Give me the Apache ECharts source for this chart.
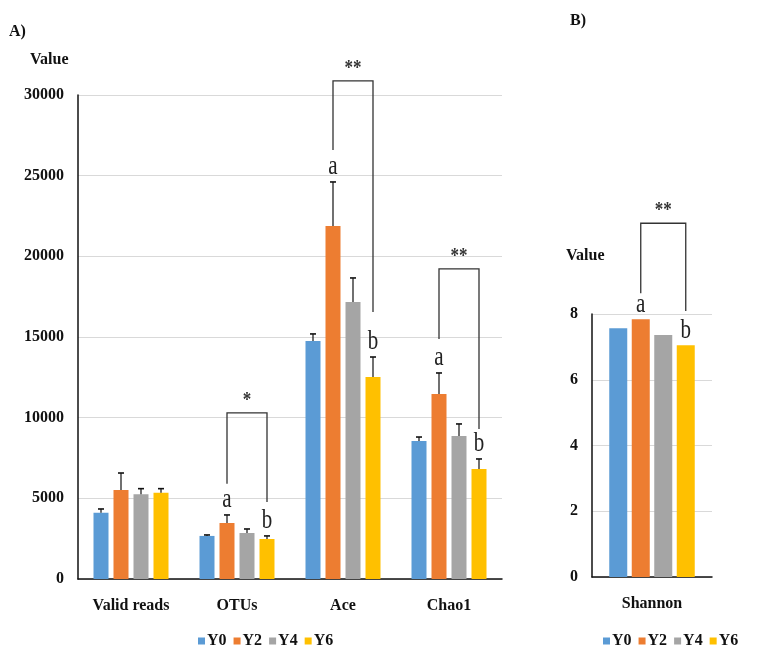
<!DOCTYPE html>
<html><head><meta charset="utf-8">
<script src="https://cdn.jsdelivr.net/npm/echarts@6/dist/echarts.min.js"></script>
<style>html,body{margin:0;padding:0;background:#fff}#c{width:763px;height:651px}</style>
</head><body><div id="c"></div>
<script>
// ---------- DATA ----------
const categoriesA = ['Valid reads', 'OTUs', 'Ace', 'Chao1'];
const categoriesB = ['Shannon'];
const seriesNames = ['Y0', 'Y2', 'Y4', 'Y6'];
const y0A = [4100, 2670, 14750, 8550];
const y2A = [5520, 3470, 21880, 11470];
const y4A = [5250, 2850, 17170, 8870];
const y6A = [5350, 2480, 12520, 6820];
const y0Err = [240, 60, 440, 250];
const y2Err = [1050, 500, 2730, 1300];
const y4Err = [350, 250, 1490, 740];
const y6Err = [250, 190, 1240, 620];
const shannonY0 = [7.57];
const shannonY2 = [7.84];
const shannonY4 = [7.36];
const shannonY6 = [7.05];
const ticksA = [0, 30000, 5000];
const ticksB = [0, 8, 2];
// bracket: [categoryIndex, fromSeries, toSeries, bracketTopValue, leftLegEndValue, rightLegEndValue]
const bracketsA = [[1, 1, 3, 10300, 5900, 4770], [2, 1, 3, 30870, 26590, 16550], [3, 1, 3, 19220, 14880, 9300]];
const bracketStarsA = ['*', '**', '**'];
const bracketsB = [[0, 1, 3, 10.76, 8.63, 8.09]];
const bracketStarsB = ['**'];
// letters: [categoryIndex, seriesIndex]
const lettersA = [[1, 1], [1, 3], [2, 1], [2, 3], [3, 1], [3, 3]];
const lettersAText = ['a', 'b', 'a', 'b', 'a', 'b'];
const lettersB = [[0, 1], [0, 3]];
const lettersBText = ['a', 'b'];

// ---------- STYLE ----------
const colors = ['#5B9BD5', '#ED7D31', '#A5A5A5', '#FFC000'];
const FONT = 'Liberation Serif';
const BW_A = 15, GAP_A = 5, BW_B = 18, GAP_B = 4.5;
const STEP_A = BW_A + GAP_A, STEP_B = BW_B + GAP_B;

const valsA = [y0A, y2A, y4A, y6A];
const errsA = [y0Err, y2Err, y4Err, y6Err];
const valsB = [shannonY0, shannonY2, shannonY4, shannonY6];

const errData = [];
valsA.forEach((arr, s) => arr.forEach((v, c) => errData.push([c, s, v + errsA[s][c], v])));
const letterDataA = lettersA.map(([c, s]) => [c, s, valsA[s][c] + errsA[s][c]]);
const letterDataB = lettersB.map(([c, s]) => [c, s, valsB[s][c]]);

function errRender(params, api) {
  const c = api.value(0), s = api.value(1);
  const top = api.coord([c, api.value(2)]);
  const bar = api.coord([c, api.value(3)]);
  const x = top[0] + (s - 1.5) * STEP_A;
  return {
    type: 'group', children: [
      { type: 'line', shape: { x1: x, y1: bar[1], x2: x, y2: top[1] }, style: { stroke: '#111', lineWidth: 1.2 } },
      { type: 'line', shape: { x1: x - 3, y1: top[1], x2: x + 3, y2: top[1] }, style: { stroke: '#111', lineWidth: 1.6 } }
    ]
  };
}
function bracketRender(step, stars) {
  return function (params, api) {
    const c = api.value(0), f = api.value(1), t = api.value(2);
    const top = api.coord([c, api.value(3)]);
    const yl = api.coord([c, api.value(4)])[1];
    const yr = api.coord([c, api.value(5)])[1];
    const xl = top[0] + (f - 1.5) * step, xr = top[0] + (t - 1.5) * step;
    return {
      type: 'group', children: [
        { type: 'polyline', shape: { points: [[xl, yl], [xl, top[1]], [xr, top[1]], [xr, yr]] }, style: { stroke: '#333', lineWidth: 1.3, fill: null } },
        { type: 'text', x: (xl + xr) / 2, y: top[1] - 2, scaleX: 0.85, style: { text: stars[params.dataIndex], font: 'bold 20px "' + FONT + '"', fill: '#333', align: 'center', verticalAlign: 'bottom' } }
      ]
    };
  };
}
function letterRender(step, texts, lift) {
  return function (params, api) {
    const c = api.value(0), s = api.value(1);
    const p = api.coord([c, api.value(2)]);
    return { type: 'text', x: p[0] + (s - 1.5) * step, y: p[1] - lift, scaleX: 0.75, style: { text: texts[params.dataIndex], font: '28px "' + FONT + '"', fill: '#222', align: 'center', verticalAlign: 'bottom' } };
  };
}

const labelStyle = { color: '#111', fontFamily: FONT, fontWeight: 'bold', fontSize: 16 };
const axisLineStyle = { show: true, lineStyle: { color: '#111', width: 1.5 } };
const splitLine = { show: true, lineStyle: { color: '#d9d9d9', width: 1.2 } };
const plain = v => String(v);

const series = [];
valsA.forEach((arr, i) => series.push({
  type: 'bar', name: seriesNames[i], xAxisIndex: 0, yAxisIndex: 0, data: arr,
  barWidth: BW_A, barGap: (GAP_A / BW_A * 100) + '%', itemStyle: { color: colors[i] }, animation: false
}));
valsB.forEach((arr, i) => series.push({
  type: 'bar', name: seriesNames[i], xAxisIndex: 1, yAxisIndex: 1, data: arr,
  barWidth: BW_B, barGap: (GAP_B / BW_B * 100) + '%', itemStyle: { color: colors[i] }, animation: false
}));
series.push({ type: 'custom', name: 'errA', xAxisIndex: 0, yAxisIndex: 0, data: errData, encode: { x: 0, y: 2 }, renderItem: errRender, z: 5, animation: false, silent: true });
series.push({ type: 'custom', name: 'brA', xAxisIndex: 0, yAxisIndex: 0, data: bracketsA, encode: { x: 0, y: 3 }, renderItem: bracketRender(STEP_A, bracketStarsA), z: 5, clip: false, animation: false, silent: true });
series.push({ type: 'custom', name: 'brB', xAxisIndex: 1, yAxisIndex: 1, data: bracketsB, encode: { x: 0, y: 3 }, renderItem: bracketRender(STEP_B, bracketStarsB), z: 5, clip: false, animation: false, silent: true });
series.push({ type: 'custom', name: 'ltA', xAxisIndex: 0, yAxisIndex: 0, data: letterDataA, encode: { x: 0, y: 2 }, renderItem: letterRender(STEP_A, lettersAText, 1), z: 5, clip: false, animation: false, silent: true });
series.push({ type: 'custom', name: 'ltB', xAxisIndex: 1, yAxisIndex: 1, data: letterDataB, encode: { x: 0, y: 2 }, renderItem: letterRender(STEP_B, lettersBText, 1), z: 5, clip: false, animation: false, silent: true });

const legendBase = {
  data: seriesNames, icon: 'rect', itemWidth: 7, itemHeight: 7, itemGap: 7,
  textStyle: Object.assign({}, labelStyle, { padding: [0, 0, 0, -3] }), selectedMode: false
};

const option = {
  backgroundColor: '#fff',
  animation: false,
  grid: [
    { left: 78, top: 95, width: 424, height: 484 },
    { left: 592, top: 314, width: 120, height: 263 }
  ],
  xAxis: [
    { type: 'category', gridIndex: 0, data: categoriesA, axisLine: axisLineStyle, axisTick: { show: false }, axisLabel: Object.assign({ margin: 19 }, labelStyle) },
    { type: 'category', gridIndex: 1, data: categoriesB, axisLine: axisLineStyle, axisTick: { show: false }, axisLabel: Object.assign({ margin: 19 }, labelStyle) }
  ],
  yAxis: [
    { type: 'value', gridIndex: 0, min: ticksA[0], max: ticksA[1], interval: ticksA[2], axisLine: axisLineStyle, axisTick: { show: false }, axisLabel: Object.assign({ margin: 14, formatter: plain }, labelStyle), splitLine: splitLine },
    { type: 'value', gridIndex: 1, min: ticksB[0], max: ticksB[1], interval: ticksB[2], axisLine: axisLineStyle, axisTick: { show: false }, axisLabel: Object.assign({ margin: 14, formatter: plain }, labelStyle), splitLine: splitLine }
  ],
  legend: [
    Object.assign({ left: 193, top: 628 }, legendBase),
    Object.assign({ left: 598, top: 628 }, legendBase)
  ],
  graphic: [
    { type: 'text', left: 9, top: 24, style: { text: 'A)', font: 'bold 16px "' + FONT + '"', fill: '#111' } },
    { type: 'text', left: 570, top: 13, style: { text: 'B)', font: 'bold 16px "' + FONT + '"', fill: '#111' } },
    { type: 'text', left: 30, top: 52, style: { text: 'Value', font: 'bold 16px "' + FONT + '"', fill: '#111' } },
    { type: 'text', left: 566, top: 248, style: { text: 'Value', font: 'bold 16px "' + FONT + '"', fill: '#111' } }
  ],
  series: series
};
const chart = echarts.init(document.getElementById('c'));
chart.setOption(option);
</script>
</body></html>
